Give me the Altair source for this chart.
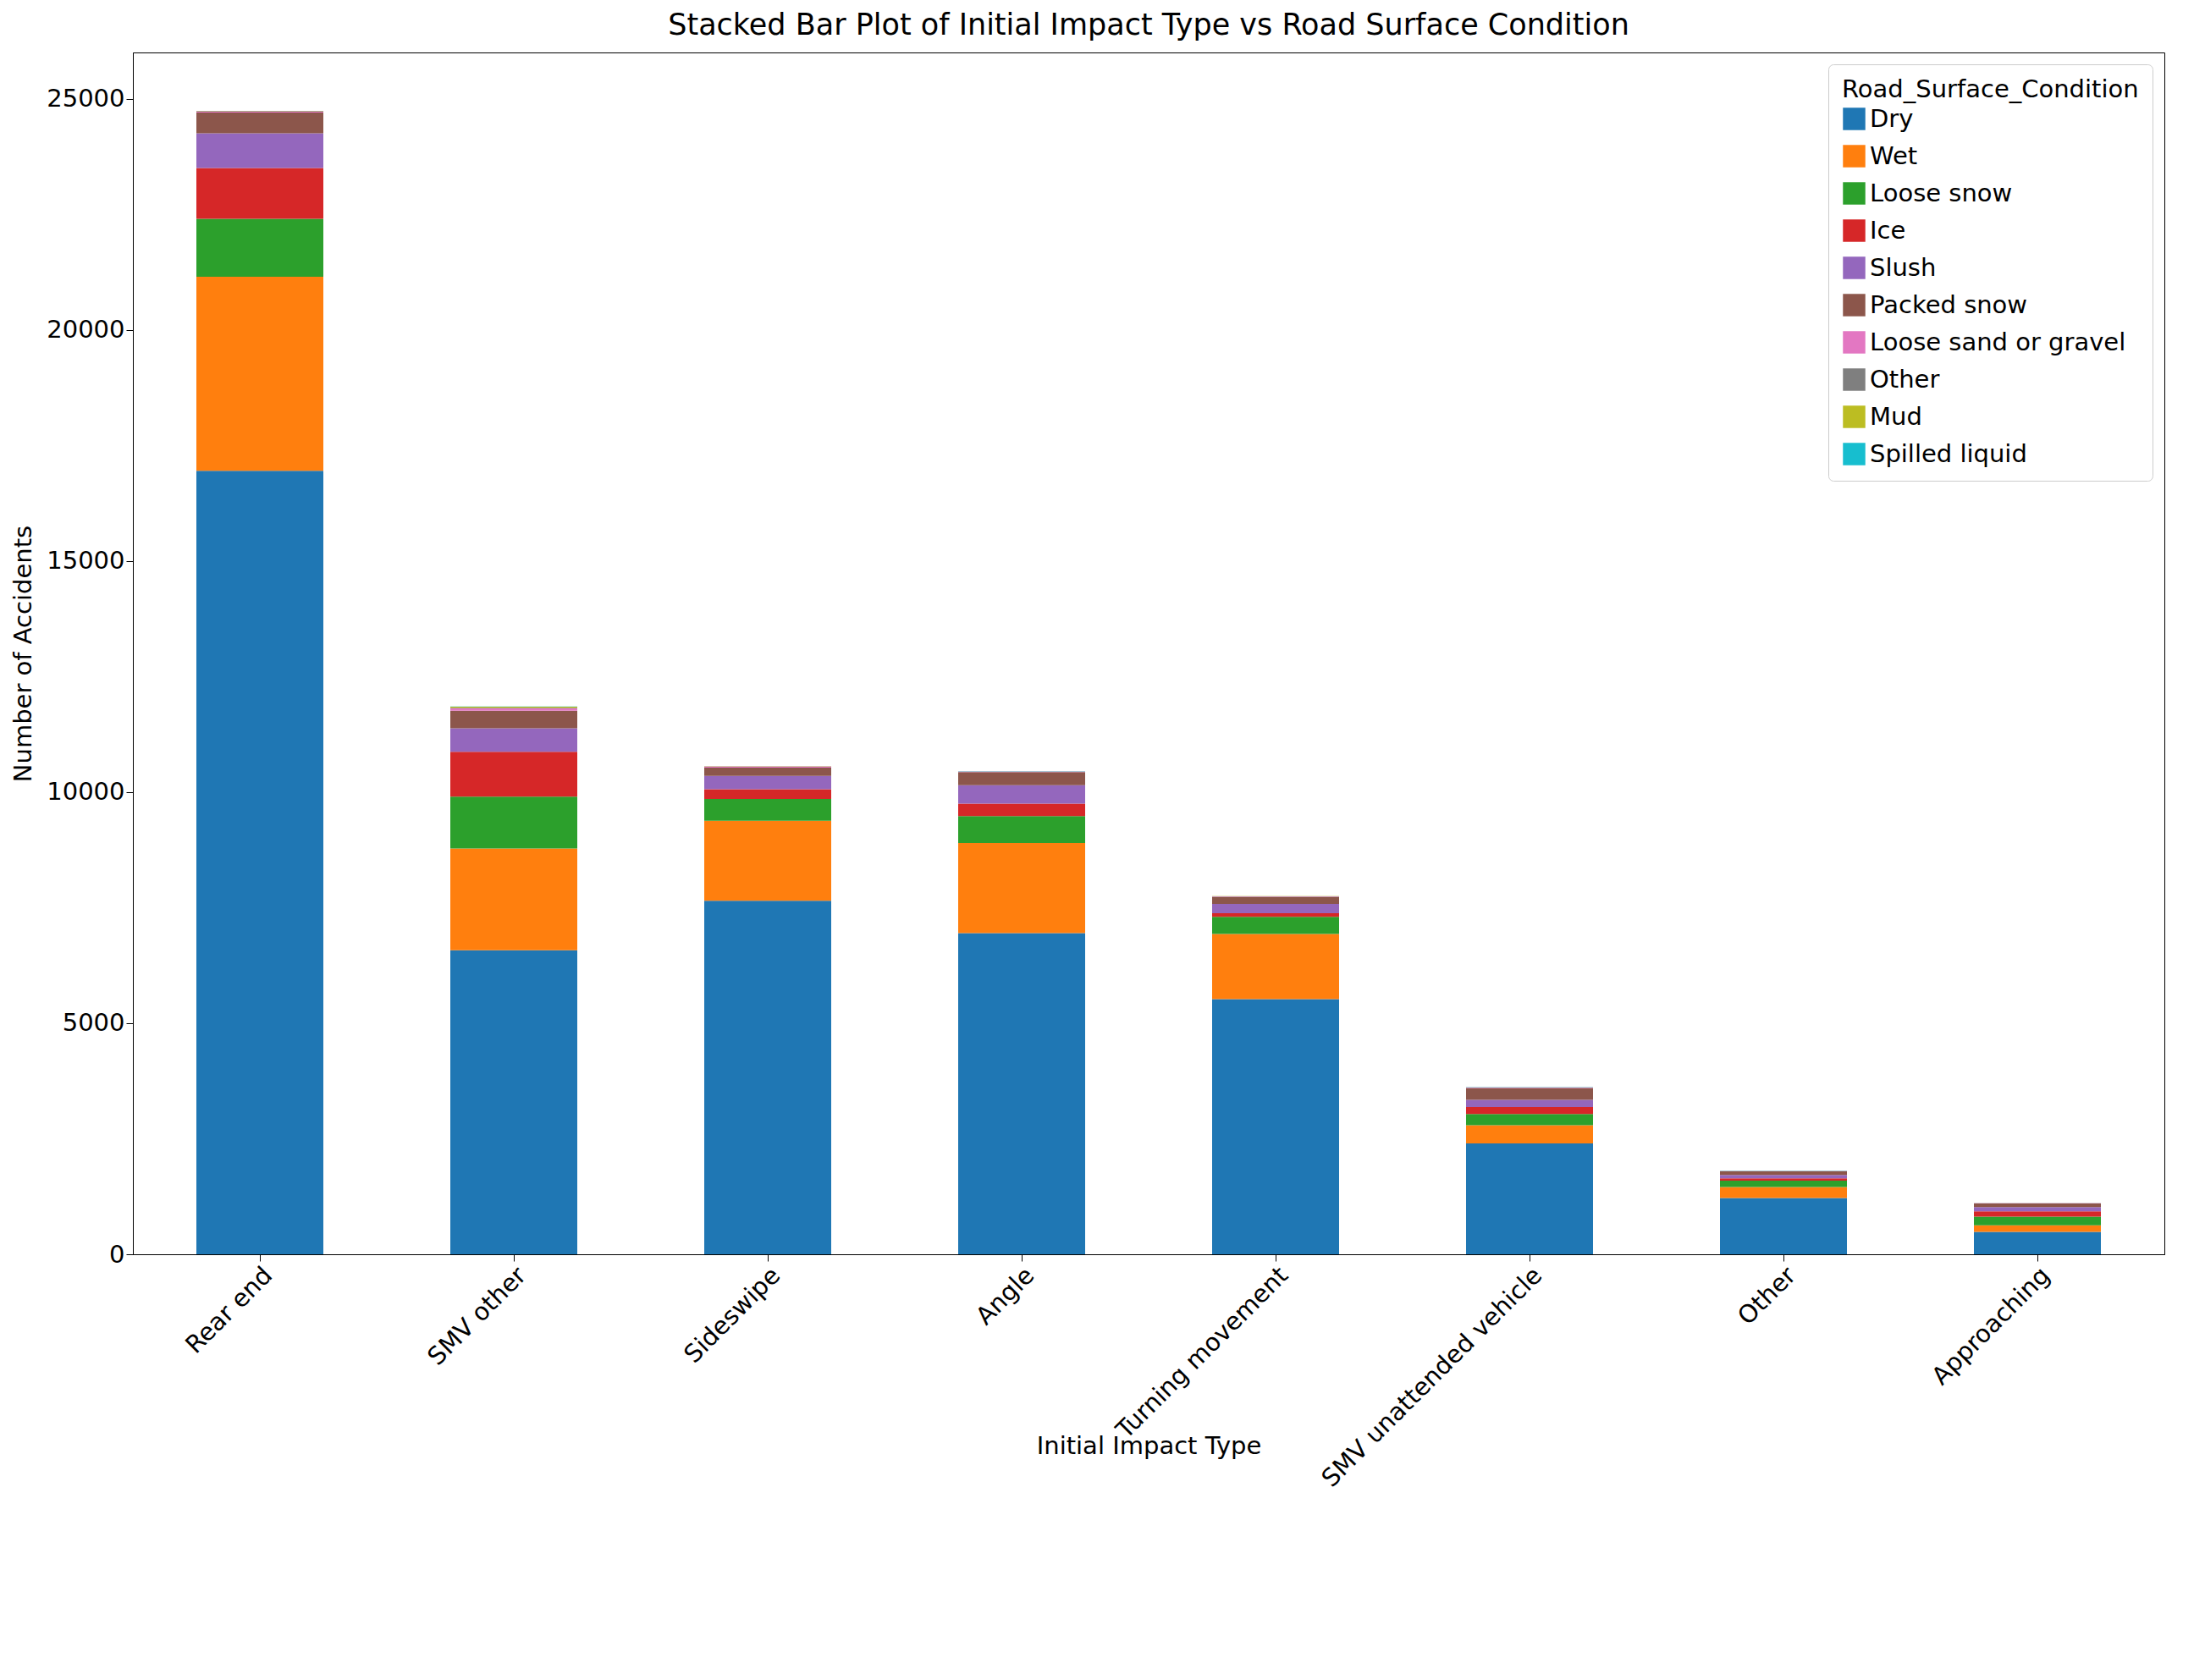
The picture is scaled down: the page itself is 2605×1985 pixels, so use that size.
import altair as alt
import pandas as pd

impact_types = ['Rear end', 'SMV other', 'Sideswipe', 'Angle', 'Turning movement',
                'SMV unattended vehicle', 'Other', 'Approaching']
conditions = ['Dry', 'Wet', 'Loose snow', 'Ice', 'Slush', 'Packed snow',
              'Loose sand or gravel', 'Other', 'Mud', 'Spilled liquid']
colors = ['#1f77b4', '#ff7f0e', '#2ca02c', '#d62728', '#9467bd', '#8c564b',
          '#e377c2', '#7f7f7f', '#bcbd22', '#17becf']

# counts per condition, one value per impact type
dry = [16950, 6580, 7650, 6950, 5520, 2400, 1217, 483]
wet = [4200, 2200, 1730, 1950, 1410, 390, 238, 144]
loose_snow = [1250, 1120, 470, 580, 370, 245, 138, 188]
ice = [1100, 970, 210, 270, 80, 150, 50, 113]
slush = [750, 510, 290, 400, 200, 155, 75, 94]
packed_snow = [450, 380, 180, 280, 150, 260, 77, 76]
sand = [20, 50, 20, 10, 10, 5, 5, 5]
other = [10, 15, 5, 5, 5, 5, 3, 3]
mud = [5, 20, 3, 3, 3, 3, 2, 2]
spilled = [3, 5, 2, 2, 2, 2, 1, 1]

series = [dry, wet, loose_snow, ice, slush, packed_snow, sand, other, mud, spilled]
rows = []
for i, (cond, vals) in enumerate(zip(conditions, series)):
    for t, v in zip(impact_types, vals):
        rows.append({'Initial Impact Type': t, 'Road_Surface_Condition': cond,
                     'count': v, 'order': i})
df = pd.DataFrame(rows)

chart = alt.Chart(df).mark_bar(size=150).encode(
    x=alt.X('Initial Impact Type:N', sort=impact_types,
            axis=alt.Axis(labelAngle=-45, labelAlign='right', labelBaseline='top',
                          labelFontSize=29, titleFontSize=29, titleFontWeight='normal',
                          tickSize=8, titlePadding=12, labelLimit=0)),
    y=alt.Y('count:Q', title='Number of Accidents', stack='zero',
            scale=alt.Scale(domain=[0, 26000], nice=False),
            axis=alt.Axis(values=[0, 5000, 10000, 15000, 20000, 25000], grid=False,
                          labelFontSize=29, titleFontSize=29, titleFontWeight='normal',
                          tickSize=8, format='d', titlePadding=12)),
    color=alt.Color('Road_Surface_Condition:N', sort=conditions,
                    scale=alt.Scale(domain=conditions, range=colors),
                    legend=alt.Legend(orient='top-right', symbolType='square',
                                      symbolSize=700, labelFontSize=29, titleFontSize=29,
                                      titleFontWeight='normal', strokeColor='#cccccc',
                                      fillColor='white', padding=16, rowPadding=14,
                                      offset=14, labelLimit=0, titleLimit=0,
                                      cornerRadius=6)),
    order=alt.Order('order:Q', sort='ascending'),
).properties(
    width=2400, height=1420,
    title=alt.Title('Stacked Bar Plot of Initial Impact Type vs Road Surface Condition',
                    fontSize=35, fontWeight='normal', offset=14)
).configure_view(stroke='black').configure_axis(domainColor='black', tickColor='black',
                                                labelColor='black', titleColor='black',
                                                labelFont='DejaVu Sans', titleFont='DejaVu Sans'
).configure_legend(labelFont='DejaVu Sans', titleFont='DejaVu Sans'
).configure_title(font='DejaVu Sans')

chart.save("out.html", embed_options={"renderer": "svg", "actions": False})
